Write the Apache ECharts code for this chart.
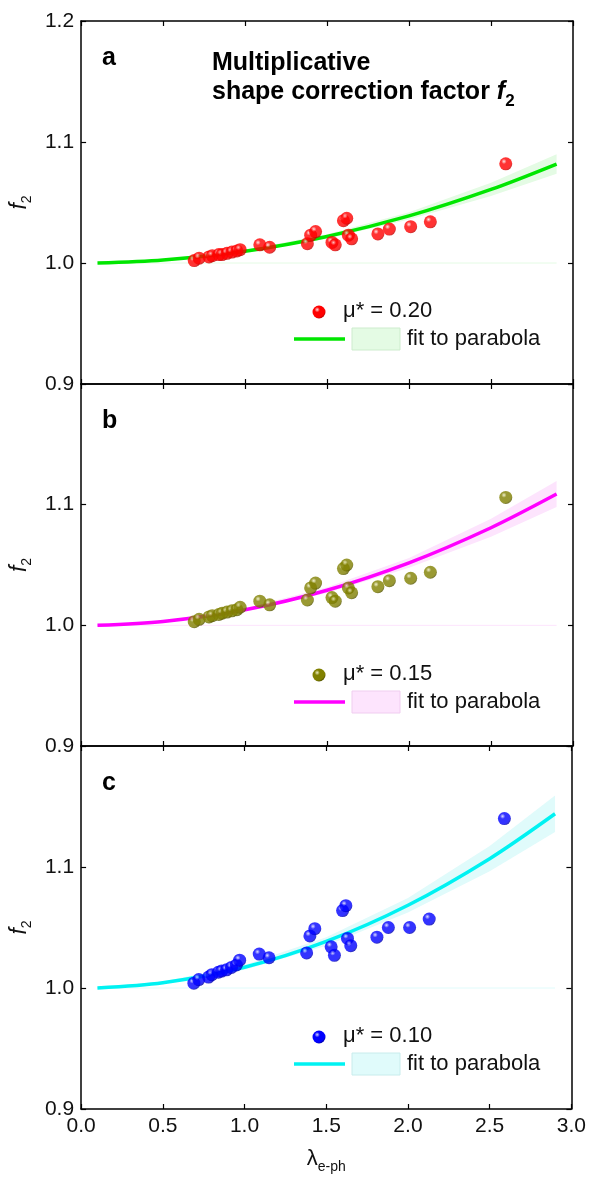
<!DOCTYPE html>
<html>
<head>
<meta charset="utf-8">
<script src="https://cdn.jsdelivr.net/npm/echarts@6/dist/echarts.min.js"></script>
<style>
html, body { margin: 0; padding: 0; background: #fff; }
#chart { width: 589px; height: 1184px; }
</style>
</head>
<body>
<div id="chart"></div>
<script>
// coupling constants of the materials (same in every panel)
const lambdaEph = [0.69, 0.72, 0.78, 0.80, 0.84, 0.86, 0.89, 0.92, 0.95, 0.97, 1.09, 1.15, 1.38, 1.40, 1.43, 1.53, 1.55, 1.60, 1.62, 1.63, 1.65, 1.81, 1.88, 2.01, 2.13, 2.59]
const f2Mu020 = [1.002, 1.004, 1.005, 1.006, 1.007, 1.007, 1.008, 1.009, 1.010, 1.011, 1.015, 1.013, 1.016, 1.023, 1.026, 1.017, 1.015, 1.035, 1.037, 1.023, 1.020, 1.024, 1.028, 1.030, 1.034, 1.082]
const f2Mu015 = [1.003, 1.005, 1.007, 1.008, 1.009, 1.010, 1.011, 1.012, 1.013, 1.015, 1.020, 1.017, 1.021, 1.031, 1.035, 1.023, 1.020, 1.047, 1.050, 1.031, 1.027, 1.032, 1.037, 1.039, 1.044, 1.106]
const f2Mu010 = [1.004, 1.007, 1.009, 1.011, 1.013, 1.014, 1.015, 1.017, 1.019, 1.023, 1.028, 1.025, 1.029, 1.043, 1.049, 1.034, 1.027, 1.064, 1.068, 1.041, 1.035, 1.042, 1.050, 1.050, 1.057, 1.140]

// parabola fit
const fitLambda = [0.1, 0.5, 1.0, 1.5, 2.0, 2.5, 2.9]
const fitMu020 = [1.000, 1.0025, 1.0097, 1.0219, 1.0389, 1.0608, 1.0818]
const fitMu015 = [1.000, 1.0032, 1.0129, 1.0291, 1.0518, 1.0809, 1.1088]
const fitMu010 = [1.000, 1.0043, 1.0171, 1.0385, 1.0684, 1.1069, 1.1440]
// half width of the shaded confidence band
const bandMu020 = [0.0003, 0.0005, 0.0010, 0.0018, 0.0030, 0.0055, 0.0080]
const bandMu015 = [0.0004, 0.0007, 0.0013, 0.0024, 0.0040, 0.0074, 0.0108]
const bandMu010 = [0.0005, 0.0010, 0.0020, 0.0035, 0.0060, 0.0105, 0.0150]

const muLabels = ['0.20', '0.15', '0.10']
const panelLetters = ['a', 'b', 'c']

const FONT = '"Liberation Sans", Arial, Helvetica, sans-serif'

const panels = [
  {dots: f2Mu020, fit: fitMu020, band: bandMu020, dot: ['#ffe0e0', '#ff0000', '#c80000'], line: '#00e600', fill: '#e4fbe4', edge: '#cdeccd'},
  {dots: f2Mu015, fit: fitMu015, band: bandMu015, dot: ['#eeeec0', '#808000', '#5a5a00'], line: '#ff00ff', fill: '#fde4fd', edge: '#f0cdf0'},
  {dots: f2Mu010, fit: fitMu010, band: bandMu010, dot: ['#d4d4ff', '#0000ff', '#0000b4'], line: '#00f2f2', fill: '#e0fbfb', edge: '#c8ecec'}
]

const gridTops = [21, 384, 746]
const gridHeights = [363, 362, 363]

function ball(c) {
  return new echarts.graphic.RadialGradient(0.36, 0.32, 0.68, [
    {offset: 0, color: c[0]},
    {offset: 0.3, color: c[1]},
    {offset: 0.85, color: c[1]},
    {offset: 1, color: c[2]}
  ])
}

const axisLine = {onZero: false, lineStyle: {color: '#000', width: 1.5}}
const axisTick = {inside: true, length: 5, lineStyle: {color: '#000', width: 1.2}}

const grids = [], xAxes = [], yAxes = [], series = [], graphics = []

panels.forEach((p, i) => {
  const top = gridTops[i]
  const last = i === panels.length - 1
  grids.push({left: 79, width: 494, top: top, height: gridHeights[i]})

  xAxes.push({
    gridIndex: i, type: 'value', min: 0, max: 3, interval: 0.5, position: 'bottom',
    axisLine, axisTick, splitLine: {show: false},
    axisLabel: {show: last, margin: 7, color: '#111', fontSize: 21, fontFamily: FONT,
      formatter: v => v.toFixed(1)},
    name: last ? '{l|λ}{s|e-ph}' : '',
    nameLocation: 'middle', nameGap: 39,
    nameTextStyle: {
      rich: {
        l: {fontSize: 22, fontFamily: FONT, color: '#111', lineHeight: 26, verticalAlign: 'top'},
        s: {fontSize: 14, fontFamily: FONT, color: '#111', lineHeight: 16, verticalAlign: 'bottom'}
      }
    }
  })
  xAxes.push({
    gridIndex: i, type: 'value', min: 0, max: 3, interval: 0.5, position: 'top',
    axisLine, axisTick, splitLine: {show: false}, axisLabel: {show: false}
  })
  yAxes.push({
    gridIndex: i, type: 'value', min: 0.9, max: 1.2, interval: 0.1, position: 'left',
    axisLine, axisTick, splitLine: {show: false},
    axisLabel: {margin: 7, color: '#111', fontSize: 21, fontFamily: FONT,
      showMaxLabel: i === 0, formatter: v => v.toFixed(1)},
    name: '{i|f}{s|2}', nameLocation: 'middle', nameRotate: 90, nameGap: 43,
    nameTextStyle: {
      rich: {
        i: {fontSize: 23, fontStyle: 'italic', fontFamily: FONT, color: '#111', lineHeight: 26, verticalAlign: 'top'},
        s: {fontSize: 14, fontFamily: FONT, color: '#111', lineHeight: 16, verticalAlign: 'bottom'}
      }
    }
  })
  yAxes.push({
    gridIndex: i, type: 'value', min: 0.9, max: 1.2, interval: 0.1, position: 'right',
    axisLine, axisTick, splitLine: {show: false}, axisLabel: {show: false}
  })

  const xi = 2 * i, yi = 2 * i
  // confidence band drawn as one polygon between upper and lower edges
  series.push({
    type: 'custom', xAxisIndex: xi, yAxisIndex: yi, silent: true, z: 1,
    data: [0],
    renderItem: (params, api) => {
      const upper = fitLambda.map((x, k) => api.coord([x, p.fit[k] + p.band[k]]))
      const lower = fitLambda.map((x, k) => api.coord([x, p.fit[k] - p.band[k]])).reverse()
      return {type: 'polygon', shape: {points: upper.concat(lower)}, style: {fill: p.fill}}
    }
  })
  // faint base edge of the band
  series.push({
    type: 'line', xAxisIndex: xi, yAxisIndex: yi, symbol: 'none', silent: true, z: 1,
    lineStyle: {color: p.fill, width: 1},
    data: [[fitLambda[0], 1], [fitLambda[fitLambda.length - 1], 1]]
  })
  series.push({
    type: 'line', xAxisIndex: xi, yAxisIndex: yi, smooth: 0.3, symbol: 'none', z: 2,
    lineStyle: {color: p.line, width: 3.5},
    data: fitLambda.map((x, k) => [x, p.fit[k]])
  })
  series.push({
    type: 'scatter', xAxisIndex: xi, yAxisIndex: yi, symbol: 'circle', symbolSize: 13, z: 3,
    itemStyle: {color: ball(p.dot)},
    data: lambdaEph.map((x, k) => [x, p.dots[k]])
  })

  // panel letter
  graphics.push({type: 'text', x: 102, y: top + 37, z: 50,
    style: {text: panelLetters[i], fontSize: 25, fontWeight: 'bold', fontFamily: FONT, fill: '#000', verticalAlign: 'middle'}})
  // legend
  graphics.push({type: 'circle', z: 50, shape: {cx: 319, cy: top + 291, r: 6.5}, style: {fill: ball(p.dot)}})
  graphics.push({type: 'text', x: 343, y: top + 290, z: 50,
    style: {text: 'μ* = ' + muLabels[i], fontSize: 22, fontFamily: FONT, fill: '#111', verticalAlign: 'middle'}})
  graphics.push({type: 'line', z: 50, shape: {x1: 294, y1: top + 318, x2: 345, y2: top + 318},
    style: {stroke: p.line, lineWidth: 3.5}})
  graphics.push({type: 'rect', z: 50, shape: {x: 352, y: top + 307, width: 48, height: 22},
    style: {fill: p.fill, stroke: p.edge, lineWidth: 1}})
  graphics.push({type: 'text', x: 407, y: top + 318, z: 50,
    style: {text: 'fit to parabola', fontSize: 22, fontFamily: FONT, fill: '#111', verticalAlign: 'middle'}})
})

// title inside panel a
graphics.push({type: 'text', x: 212, y: 63, z: 50,
  style: {text: 'Multiplicative', fontSize: 25, fontWeight: 'bold', fontFamily: FONT, fill: '#000', verticalAlign: 'middle'}})
graphics.push({type: 'text', x: 212, y: 95, z: 50,
  style: {
    text: '{b|shape correction factor }{f|f}{s|2}',
    verticalAlign: 'middle',
    rich: {
      b: {fontSize: 25, fontWeight: 'bold', fontFamily: FONT, fill: '#000', lineHeight: 30, verticalAlign: 'top'},
      f: {fontSize: 25, fontWeight: 'bold', fontStyle: 'italic', fontFamily: FONT, fill: '#000', lineHeight: 30, verticalAlign: 'top'},
      s: {fontSize: 17, fontWeight: 'bold', fontFamily: FONT, fill: '#000', lineHeight: 20, verticalAlign: 'bottom'}
    }
  }})

const chart = echarts.init(document.getElementById('chart'))
chart.setOption({
  animation: false,
  backgroundColor: '#fff',
  grid: grids,
  xAxis: xAxes,
  yAxis: yAxes,
  series: series,
  graphic: graphics
})
</script>
</body>
</html>
